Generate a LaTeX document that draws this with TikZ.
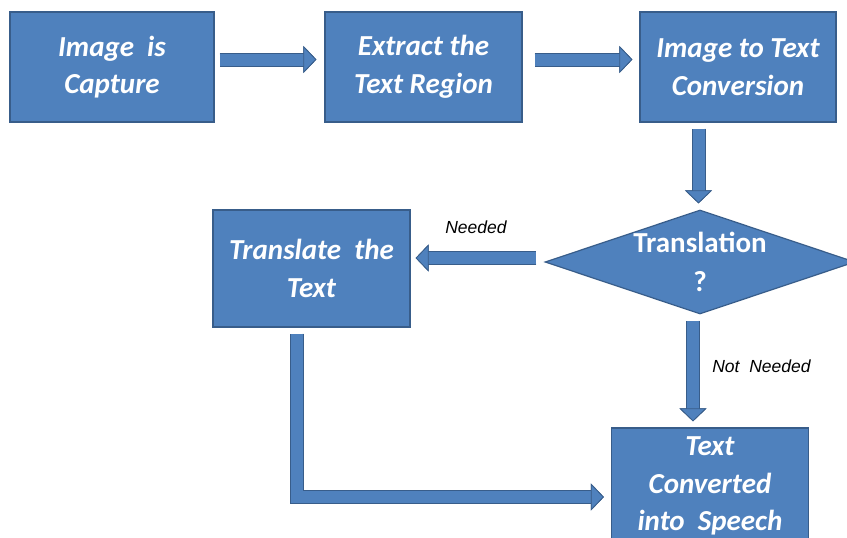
\documentclass[tikz,border=0pt]{standalone}
\usepackage{fontspec}
\usepackage{tikz}
\usetikzlibrary{shapes.geometric,arrows.meta}
\newfontfamily\boxfont{Carlito}
\newfontfamily\notefont{Liberation Sans}
\definecolor{boxblue}{RGB}{79,129,189}
\definecolor{boxedge}{RGB}{56,93,138}

\begin{document}
\begin{tikzpicture}[x=1pt, y=-1pt,
    block/.style={rectangle, fill=boxblue, draw=boxedge, line width=1.2pt, text=white,
      minimum width=197pt, minimum height=110pt, align=center,
      font=\boxfont\bfseries\itshape\fontsize{29}{37.5}\selectfont},
    decision/.style={diamond, fill=boxblue, draw=boxedge, line width=1.2pt,
      minimum width=310pt, minimum height=104pt, inner sep=0pt},
    flow/.style={draw=boxblue, line width=12pt, line join=miter,
      preaction={draw=boxedge, line width=14pt, line join=miter,
        -{Triangle[length=13pt,width=27pt,line width=0.8pt]}},
      -{Triangle[length=13pt,width=27pt,line width=0.8pt,color=boxedge,fill=boxblue]}},
    note/.style={font=\notefont\itshape\fontsize{17.5}{21}\selectfont}]
                \useasboundingbox (0,0) rectangle (847,538);
                \node[block, minimum width=204pt] (cap) at (112,67) {Image\ \ is\\Capture};
                \node[block] (ext) at (423.5,67) {Extract the\\Text Region};
                \node[block, minimum width=196pt] (conv) at (738,67) {Image to Text\\Conversion};
                \node[decision, label={[text=white, align=center,
                    font=\boxfont\bfseries\fontsize{29}{39}\selectfont]center:Translation\\?}] (dec) at (700,262) {};
                \node[block, minimum height=117pt] (trans) at (311.5,268.5) {Translate\ \ the\\Text};
                \node[block, minimum height=116pt] (speech) at (710,486) {Text\\Converted\\into\ \ Speech};
                \draw[flow] ([xshift=5pt,yshift=7.5pt]cap.east) -- ([xshift=-8pt,yshift=7.5pt]ext.west);
                \draw[flow] ([xshift=12pt,yshift=7.5pt]ext.east) -- ([xshift=-7pt,yshift=7.5pt]conv.west);
                \draw[flow] ([xshift=-39.5pt,yshift=-6pt]conv.south) -- ([xshift=-1.5pt,yshift=6pt]dec.north);
                \draw[flow] ([xshift=-8pt,yshift=4pt]dec.west)
                    -- node[note, above=15pt] {Needed} ([xshift=5pt,yshift=10.5pt]trans.east);
                \draw[flow] ([xshift=-7pt,yshift=-6pt]dec.south)
                    -- node[note, right=10pt, pos=.45] {Not\ \ Needed} ([xshift=-17pt,yshift=6pt]speech.north);
                \draw[flow] ([xshift=-14.5pt,yshift=-6pt]trans.south) |- ([xshift=-7pt,yshift=-11pt]speech.west);
            \end{tikzpicture}
\end{document}
